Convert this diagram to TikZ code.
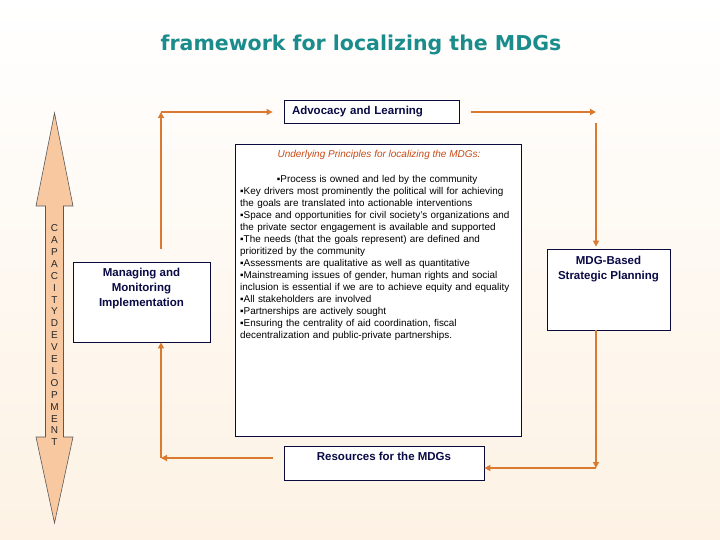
\documentclass[tikz,border=0pt]{standalone}
\usepackage{fontspec}
\setmainfont{Liberation Sans}
\newfontfamily\titlefont{DejaVu Sans}
\usepackage{xcolor}
\usetikzlibrary{arrows.meta,positioning}

\definecolor{titleteal}{RGB}{26,140,140}
\definecolor{conn}{RGB}{217,122,48}
\definecolor{boxline}{RGB}{10,10,60}
\definecolor{boxtext}{RGB}{10,10,70}
\definecolor{ptitle}{RGB}{200,74,20}
\definecolor{capfill}{RGB}{248,200,160}
\definecolor{cream}{RGB}{253,242,228}

\begin{document}
\begin{tikzpicture}[x=1pt, y=-1pt,
  box/.style={rectangle, draw=boxline, fill=white, line width=0.8pt,
    text=boxtext, font=\fontsize{11.5}{15}\selectfont\bfseries, inner sep=0pt},
  boxlab/.style={text=boxtext, font=\fontsize{11.5}{15}\selectfont\bfseries,
    align=center, inner sep=0pt, anchor=north},
  arr/.style={-{Triangle[length=6pt,width=6pt]}, line width=1.3pt, draw=conn}
]
  % background
  \shade[top color=white, bottom color=cream] (0,0) rectangle (720,540);
  \useasboundingbox (0,0) rectangle (720,540);

  \node[font=\titlefont\bfseries\fontsize{20.5}{22}\selectfont, text=titleteal] (title) at (361,45)
    {framework for localizing the MDGs};

  % capacity development double arrow
  \draw[fill=capfill, draw=black!65, line width=0.6pt]
    (54.5,113) -- (73,206) -- (63.5,206) -- (63.5,437) -- (73,437) -- (54.5,523)
    -- (36,437) -- (45.5,437) -- (45.5,206) -- (36,206) -- cycle;
  \node[anchor=north, inner sep=0pt, align=center, text=black!85,
    font=\fontsize{10}{11.9}\selectfont] (cap) at (54.5,224.5)
    {C\\A\\P\\A\\C\\I\\T\\Y\\D\\E\\V\\E\\L\\O\\P\\M\\E\\N\\T};

  % boxes
  \node[box, minimum width=175pt, minimum height=23pt, text width=159pt,
    align=left, inner xsep=8pt] (adv) at (371.5,112) {Advocacy and Learning};
  \node[box, minimum width=286pt, minimum height=292pt] (prin) at (378,290) {};
  \node[font=\fontsize{10}{12}\selectfont\itshape, text=ptitle] (ptitle) at (379,155)
    {Underlying Principles for localizing the MDGs:};
  \node[anchor=north west, text width=278pt, align=left, inner sep=0pt,
    font=\fontsize{9.9}{12}\selectfont, text=black] (pbody) at (240,175)
    {\makebox[274pt][c]{▪Process is owned and led by the community}\\
     ▪Key drivers most prominently the political will for achieving\\
     the goals are translated into actionable interventions\\
     ▪Space and opportunities for civil society's organizations and\\
     the private sector engagement is available and supported\\
     ▪The needs (that the goals represent) are defined and\\
     prioritized by the community\\
     ▪Assessments are qualitative as well as quantitative\\
     ▪Mainstreaming issues of gender, human rights and social\\
     inclusion is essential if we are to achieve equity and equality\\
     ▪All stakeholders are involved\\
     ▪Partnerships are actively sought\\
     ▪Ensuring the centrality of aid coordination, fiscal\\
     decentralization and public-private partnerships.};

  \node[box, minimum width=137pt, minimum height=80pt,
    label={[boxlab, yshift=-6pt]north:Managing and\\Monitoring\\Implementation}]
    (mon) at (141.5,302) {};
  \node[box, minimum width=123pt, minimum height=81pt,
    label={[boxlab, yshift=-7.5pt]north:MDG-Based\\Strategic Planning}]
    (mdg) at (608.5,289.5) {};
  \node[box, minimum width=200pt, minimum height=34pt,
    label={[boxlab, yshift=-6.5pt]north:Resources for the MDGs}]
    (res) at (384,463) {};

  % cycle connectors
  \coordinate (c1) at (161,112);
  \coordinate (c2) at (596,112);
  \coordinate (c3) at (596,468);
  \coordinate (c4) at (161,458);

  \draw[arr, shorten <=13pt] (mon.north -| c1) -- (c1);
  \draw[arr, shorten >=11pt] (c1) -- (adv.west);
  \draw[arr, shorten <=12pt] (adv.east) -- (c2);
  \draw[arr, shorten <=11pt, shorten >=2pt] (c2) -- (mdg.north -| c2);
  \draw[arr] (mdg.south -| c2) -- (c3);
  \draw[arr] (c3) -- (res.east |- c3);
  \draw[arr, shorten <=11pt] (res.west |- c4) -- (c4);
  \draw[arr] (c4) -- (mon.south -| c4);
\end{tikzpicture}
\end{document}
